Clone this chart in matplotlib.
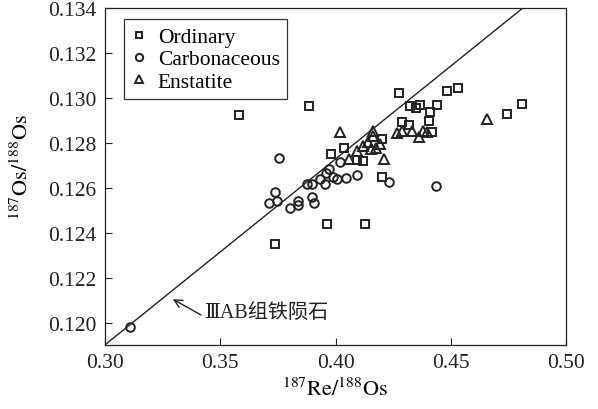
import numpy as np
import matplotlib
matplotlib.use('Agg')
import matplotlib.pyplot as plt

plt.rcParams['font.family'] = ['Liberation Serif', 'DejaVu Serif', 'Noto Sans CJK SC']
plt.rcParams['mathtext.fontset'] = 'stix'

# data points (187Re/188Os, 187Os/188Os)
ord_x = [0.3581, 0.3885, 0.4277, 0.4325, 0.4349, 0.4367, 0.4442, 0.4409, 0.4406,
         0.4482, 0.4531, 0.4742, 0.4808, 0.4287, 0.4321, 0.4417, 0.4201, 0.3979,
         0.4039, 0.4094, 0.4120, 0.4202, 0.3961, 0.4127, 0.3737]
ord_y = [0.12923, 0.12964, 0.13020, 0.12964, 0.12953, 0.12969, 0.12970, 0.12938, 0.12899,
         0.13032, 0.13042, 0.12927, 0.12972, 0.12892, 0.12879, 0.12846, 0.12818, 0.12752,
         0.12775, 0.12723, 0.12720, 0.12648, 0.12439, 0.12439, 0.12350]

carb_x = [0.3108, 0.3755, 0.3737, 0.3711, 0.3748, 0.3802, 0.3836, 0.3838, 0.3896,
          0.3906, 0.3877, 0.3900, 0.3932, 0.3957, 0.3973, 0.3954, 0.3987, 0.4007,
          0.4044, 0.4019, 0.4094, 0.4232, 0.4434]
carb_y = [0.11979, 0.12731, 0.12581, 0.12534, 0.12539, 0.12512, 0.12525, 0.12541, 0.12561,
          0.12534, 0.12615, 0.12616, 0.12640, 0.12667, 0.12685, 0.12615, 0.12649, 0.12637,
          0.12642, 0.12716, 0.12655, 0.12626, 0.12606]

ens_x = [0.4019, 0.4163, 0.4164, 0.4121, 0.4195, 0.4156, 0.4177, 0.4092, 0.4060,
         0.4210, 0.4265, 0.4290, 0.4330, 0.4364, 0.4379, 0.4398, 0.4657, 0.4140]
ens_y = [0.12849, 0.12853, 0.12831, 0.12788, 0.12793, 0.12771, 0.12775, 0.12762, 0.12730,
         0.12728, 0.12845, 0.12851, 0.12853, 0.12827, 0.12853, 0.12848, 0.12906, 0.12804]

# IIIAB isochron
slope = 0.0827
intercept = 0.0942

fig = plt.figure(figsize=(5.98, 4.10), dpi=100)
ax = fig.add_axes([0.1756, 0.156, 0.7709, 0.822])

xl = np.array([0.29, 0.50])
ax.plot(xl, intercept + slope * xl, color='#222222', lw=1.0, zorder=1)

mk = dict(linestyle='none', markerfacecolor='none', markeredgecolor='#222222',
          markeredgewidth=1.4)
ax.plot(ord_x, ord_y, marker='s', markersize=5.5, label='Ordinary', **mk)
ax.plot(carb_x, carb_y, marker='o', markersize=6.2, label='Carbonaceous', **mk)
ax.plot(ens_x, ens_y, marker='^', markersize=7, label='Enstatite', **mk)

ax.annotate('ⅢAB组铁陨石', xy=(0.3294, 0.12104), xytext=(0.3434, 0.12045),
            fontsize=14.5, va='center', ha='left', color='#222222',
            arrowprops=dict(arrowstyle='->', lw=1.0, color='#222222',
                            relpos=(0, 0.25), shrinkA=1, shrinkB=0))

ax.set_xlim(0.30, 0.50)
ax.set_ylim(0.119, 0.134)
ax.set_xticks([0.30, 0.35, 0.40, 0.45, 0.50])
ax.set_yticks(np.arange(0.120, 0.1341, 0.002))
ax.xaxis.set_major_formatter(plt.FormatStrFormatter('%.2f'))
ax.yaxis.set_major_formatter(plt.FormatStrFormatter('%.3f'))
ax.tick_params(direction='in', length=5, width=0.8, labelsize=15.5, pad=6,
               colors='#222222')
for s in ax.spines.values():
    s.set_linewidth(0.9)
    s.set_color('#222222')

ax.set_xlabel(r'$^{187}\mathrm{Re/}^{188}\mathrm{Os}$', fontsize=16)
ax.set_ylabel(r'$^{187}\mathrm{Os/}^{188}\mathrm{Os}$', fontsize=16)
ax.xaxis.set_label_coords(0.5, -0.095)
ax.yaxis.set_label_coords(-0.156, 0.53)

leg = ax.legend(loc='upper left', bbox_to_anchor=(0.042, 0.966), borderaxespad=0,
                fontsize=15.5, fancybox=False, framealpha=1, edgecolor='#333333',
                handlelength=0.7, handletextpad=0.5, labelspacing=0.1,
                borderpad=0.35, markerscale=0.85)
leg.get_frame().set_linewidth(0.9)

fig.savefig('out.png', dpi=100)
